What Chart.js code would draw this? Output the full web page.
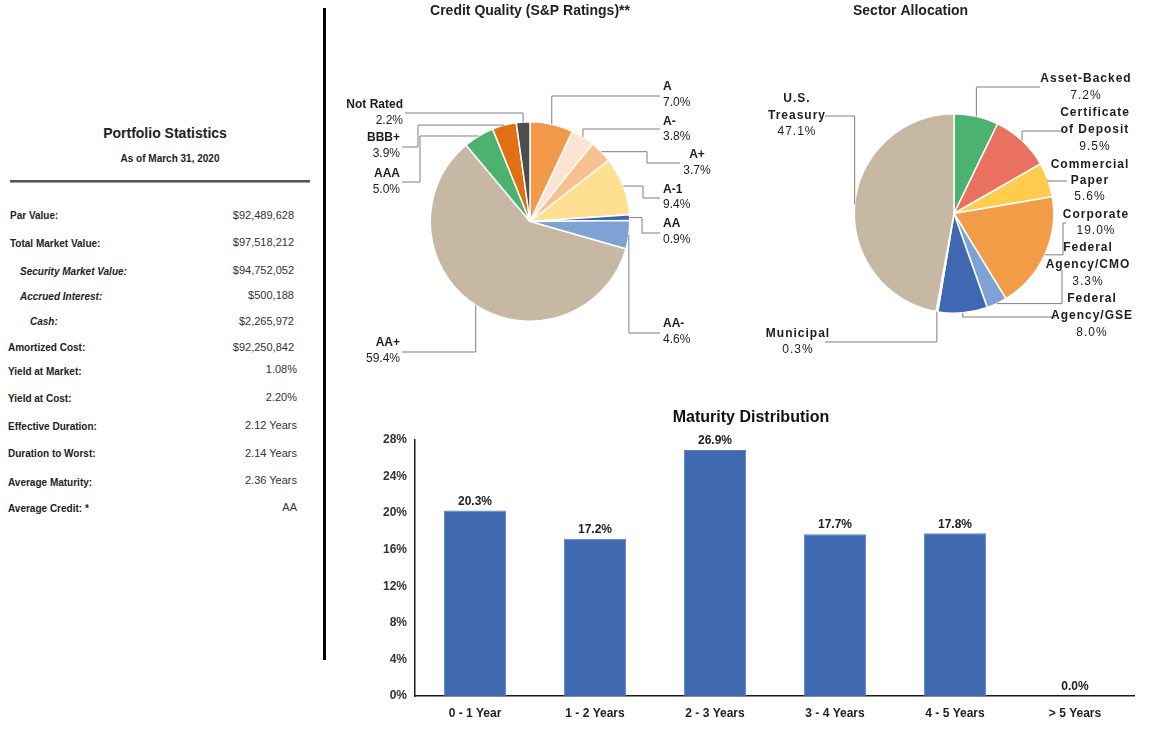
<!DOCTYPE html>
<html>
<head>
<meta charset="utf-8">
<script src="https://cdn.jsdelivr.net/npm/chart.js@4/dist/chart.umd.min.js"></script>
<style>
  html, body { margin:0; padding:0; background:#fff; }
  body { width:1176px; height:729px; position:relative; overflow:hidden; font-family:"Liberation Sans", Arial, sans-serif; color:#222; }
  canvas { position:absolute; }
  .t { position:absolute; white-space:nowrap; line-height:14px; }
</style>
</head>
<body>
<div id="panel"></div>
<div style="position:absolute;left:323px;top:8px;width:3px;height:652px;background:#000;"></div>
<canvas id="credit" width="410" height="380" style="left:330px;top:0px;"></canvas>
<canvas id="sector" width="436" height="380" style="left:740px;top:0px;"></canvas>
<canvas id="maturity" width="795" height="329" style="left:340px;top:400px;"></canvas>
<script>
// ---------- DATA ----------
const statTitle = 'Portfolio Statistics';
const statDate = 'As of March 31, 2020';
const statLabels = ['Par Value:', 'Total Market Value:', 'Security Market Value:', 'Accrued Interest:', 'Cash:', 'Amortized Cost:', 'Yield at Market:', 'Yield at Cost:', 'Effective Duration:', 'Duration to Worst:', 'Average Maturity:', 'Average Credit: *'];
const statValues = ['$92,489,628', '$97,518,212', '$94,752,052', '$500,188', '$2,265,972', '$92,250,842', '1.08%', '2.20%', '2.12 Years', '2.14 Years', '2.36 Years', 'AA'];

const creditTitle = 'Credit Quality (S&P Ratings)**';
const creditCategories = ['A', 'A-', 'A+', 'A-1', 'AA', 'AA-', 'AA+', 'AAA', 'BBB+', 'Not Rated'];
const creditValues = [7.0, 3.8, 3.7, 9.4, 0.9, 4.6, 59.4, 5.0, 3.9, 2.2];

const sectorTitle = 'Sector Allocation';
const sectorCategories = ['Asset-Backed', 'Certificate of Deposit', 'Commercial Paper', 'Corporate', 'Federal Agency/CMO', 'Federal Agency/GSE', 'Municipal', 'U.S. Treasury'];
const sectorValues = [7.2, 9.5, 5.6, 19.0, 3.3, 8.0, 0.3, 47.1];

const maturityTitle = 'Maturity Distribution';
const maturityCategories = ['0 - 1 Year', '1 - 2 Years', '2 - 3 Years', '3 - 4 Years', '4 - 5 Years', '> 5 Years'];
const maturityValues = [20.3, 17.2, 26.9, 17.7, 17.8, 0.0];
const maturityTicks = [0, 4, 8, 12, 16, 20, 24, 28];

// ---------- STYLES / LAYOUT ----------
const FONT = '"Liberation Sans", Arial, sans-serif';
const creditColors = ['#F29A49', '#FCE3D2', '#F8C290', '#FFE092', '#3D66B0', '#7FA2D5', '#C6B8A3', '#4BB36F', '#E07011', '#4D4D4D'];
const sectorColors = ['#4BB36F', '#EA7160', '#FFCC4E', '#F39C48', '#7FA2D5', '#3E68B2', '#F2F2F2', '#C6B8A3'];
const barColor = '#3F69B1';

const statLayout = {
  labelY: [216, 244, 272, 297, 322, 348, 372, 399, 427, 454, 483, 509],
  labelX: [10, 10, 20, 20, 30, 8, 8, 8, 8, 8, 8, 8],
  italic: [false, false, true, true, true, false, false, false, false, false, false, false],
  valueY: [215, 242, 270, 295, 321, 347, 369, 397, 425, 453, 480, 507],
  valueRight: [294, 294, 294, 294, 294, 294, 297, 297, 297, 297, 297, 297]
};

// page coordinates
const creditLabelLayout = [
  {x:663, align:'left',   y:87,  lh:16, lineY:96,  endX:660},
  {x:663, align:'left',   y:122, lh:15, lineY:129, endX:660},
  {x:697, align:'center', y:155, lh:16, elbowX:647, lineY:163, endX:680},
  {x:663, align:'left',   y:190, lh:15, elbowX:643, lineY:198, endX:660},
  {x:663, align:'left',   y:224, lh:16, elbowX:642, lineY:233, endX:660},
  {x:663, align:'left',   y:324, lh:16, lineY:333, endX:660},
  {x:400, align:'right',  y:343, lh:16, lineY:352, endX:402},
  {x:400, align:'right',  y:174, lh:16, elbowX:420, lineY:182, endX:402},
  {x:400, align:'right',  y:138, lh:16, elbowX:418, lineY:147, endX:402},
  {x:403, align:'right',  y:105, lh:16, lineY:113, endX:405}
];
const sectorLabelLayout = [
  {x:1086, align:'center', y:79,  lh:17, lineY:87,  endX:1040, wrap:200},
  {x:1095, align:'center', y:113, lh:17, lineY:131, endX:1063, wrap:82},
  {x:1090, align:'center', y:165, lh:16, lineY:181, endX:1067, wrap:82},
  {x:1096, align:'center', y:215, lh:16, elbowX:1063, lineY:223, endX:1066, wrap:120},
  {x:1088, align:'center', y:248, lh:17, elbowX:1062, lineY:270, endX:1062, wrap:82},
  {x:1092, align:'center', y:299, lh:17, lineY:317, endX:1055, wrap:82},
  {x:798,  align:'center', y:334, lh:16, lineY:342, endX:825, wrap:120},
  {x:797,  align:'center', y:99,  lh:16.5, lineY:116, endX:825, wrap:60}
];

// ---------- LEFT PANEL ----------
(function buildPanel() {
  const p = document.getElementById('panel');
  const add = (html, style) => { const d = document.createElement('div'); d.className = 't'; d.style.cssText = style; d.textContent = html; p.appendChild(d); return d; };
  add(statTitle, 'left:0;width:330px;text-align:center;top:125px;font-size:14px;font-weight:bold;line-height:16px;');
  add(statDate, 'left:0;width:340px;text-align:center;top:153px;font-size:10px;font-weight:bold;line-height:12px;');
  const rule = document.createElement('div');
  rule.style.cssText = 'position:absolute;left:10px;top:180px;width:300px;height:2px;background:#555;border-bottom:1px solid #999;';
  p.appendChild(rule);
  statLabels.forEach((lab, i) => {
    add(lab, `left:${statLayout.labelX[i]}px;top:${statLayout.labelY[i]-7}px;font-size:10px;font-weight:bold;${statLayout.italic[i] ? 'font-style:italic;' : ''}`);
    add(statValues[i], `right:${1176 - statLayout.valueRight[i]}px;top:${statLayout.valueY[i]-7}px;font-size:11px;color:#333;`);
  });
})();

// ---------- PIE LEADER LABEL PLUGIN ----------
const leaderPlugin = {
  id: 'leaders',
  afterDatasetsDraw(chart, args, opts) {
    const ctx = chart.ctx;
    const meta = chart.getDatasetMeta(0);
    const values = chart.data.datasets[0].data;
    const labels = chart.data.labels;
    const ox = opts.offsetX, oy = opts.offsetY;
    ctx.save();
    meta.data.forEach((arc, i) => {
      const L = opts.layout[i];
      const p = arc.getProps(['x', 'y', 'startAngle', 'endAngle', 'outerRadius'], true);
      const mid = (p.startAngle + p.endAngle) / 2;
      const sx = p.x + Math.cos(mid) * p.outerRadius;
      const sy = p.y + Math.sin(mid) * p.outerRadius;
      const ex = (L.elbowX != null) ? L.elbowX - ox : sx;
      const ly = L.lineY - oy;
      ctx.strokeStyle = '#7f7f7f';
      ctx.lineWidth = 1;
      ctx.beginPath();
      ctx.moveTo(sx, sy);
      ctx.lineTo(ex, sy);
      ctx.lineTo(ex, ly);
      ctx.lineTo(L.endX - ox, ly);
      ctx.stroke();

      ctx.letterSpacing = opts.spacing || '0px';
      ctx.font = `bold 12px ${FONT}`;
      const words = String(labels[i]).split(' ');
      const lines = [];
      let cur = '';
      words.forEach(w => {
        const test = cur ? cur + ' ' + w : w;
        if (cur && L.wrap && ctx.measureText(test).width > L.wrap) { lines.push(cur); cur = w; }
        else cur = test;
      });
      lines.push(cur);
      ctx.fillStyle = '#1d1d1d';
      ctx.textAlign = L.align;
      ctx.textBaseline = 'middle';
      let y = L.y - oy;
      lines.forEach(line => { ctx.font = `bold 12px ${FONT}`; ctx.fillText(line, L.x - ox, y); y += L.lh; });
      ctx.font = `12px ${FONT}`;
      ctx.fillText(values[i].toFixed(1) + '%', L.x - ox, y);
    });
    ctx.letterSpacing = '0px';
    ctx.restore();
  }
};

function pieConfig(labels, values, colors, title, titleAlign, padding, layout, offX, offY, spacing) {
  return {
    type: 'pie',
    data: { labels, datasets: [{ data: values, backgroundColor: colors, borderColor: '#ffffff', borderWidth: 1.5, hoverOffset: 0, offset: 0 }] },
    options: {
      responsive: false, animation: false, devicePixelRatio: 1, events: [],
      layout: { padding },
      plugins: {
        legend: { display: false }, tooltip: { enabled: false },
        title: { display: true, text: title, align: titleAlign, color: '#222',
                 font: { family: FONT, size: 14, weight: 'bold' }, padding: { top: 3, bottom: padding.titleBottom } },
        leaders: { layout, offsetX: offX, offsetY: offY, spacing }
      }
    },
    plugins: [leaderPlugin]
  };
}

new Chart(document.getElementById('credit'), pieConfig(
  creditCategories, creditValues, creditColors, creditTitle, 'center',
  { left: 99, right: 109, top: 0, bottom: 58, titleBottom: 101.2 }, creditLabelLayout, 330, 0, '0px'));

new Chart(document.getElementById('sector'), pieConfig(
  sectorCategories, sectorValues, sectorColors, sectorTitle, 'start',
  { left: 113, right: 121, top: 0, bottom: 66, titleBottom: 93.2 }, sectorLabelLayout, 740, 0, '1px'));

// ---------- BAR CHART ----------
const barLabelPlugin = {
  id: 'barLabels',
  afterDatasetsDraw(chart) {
    const ctx = chart.ctx;
    const meta = chart.getDatasetMeta(0);
    const vals = chart.data.datasets[0].data;
    ctx.save();
    ctx.font = `bold 12px ${FONT}`;
    ctx.fillStyle = '#222';
    ctx.textAlign = 'center';
    ctx.textBaseline = 'bottom';
    meta.data.forEach((bar, i) => {
      ctx.fillText(vals[i].toFixed(1) + '%', bar.x, bar.y - 3);
    });
    ctx.restore();
  }
};

new Chart(document.getElementById('maturity'), {
  type: 'bar',
  data: { labels: maturityCategories, datasets: [{ data: maturityValues, backgroundColor: barColor, borderColor: '#5A80C2', borderWidth: 1, categoryPercentage: 1.0, barPercentage: 0.52 }] },
  options: {
    responsive: false, animation: false, devicePixelRatio: 1, events: [],
    layout: { padding: { left: 27, right: 0, top: 0, bottom: 0 } },
    plugins: {
      legend: { display: false }, tooltip: { enabled: false },
      title: { display: true, text: maturityTitle, color: '#111', font: { family: FONT, size: 16, weight: 'bold' }, padding: { top: 8, bottom: 12.8 } }
    },
    scales: {
      x: {
        grid: { display: false, drawTicks: false },
        border: { display: true, color: '#1a1a1a', width: 1.5 },
        ticks: { color: '#222', font: { family: FONT, size: 12, weight: 'bold' }, padding: 10, maxRotation: 0 },
        afterFit: (a) => { a.height = 33; }
      },
      y: {
        min: 0, max: 28,
        afterBuildTicks: (a) => { a.ticks = maturityTicks.map(v => ({ value: v })); },
        grid: { display: false, drawTicks: false },
        border: { display: true, color: '#1a1a1a', width: 1.5 },
        ticks: { color: '#333', font: { family: FONT, size: 12, weight: 'bold' }, padding: 8, callback: (v) => v + '%' },
        afterFit: (a) => { a.width = 48; }
      }
    }
  },
  plugins: [barLabelPlugin]
});
</script>
</body>
</html>
